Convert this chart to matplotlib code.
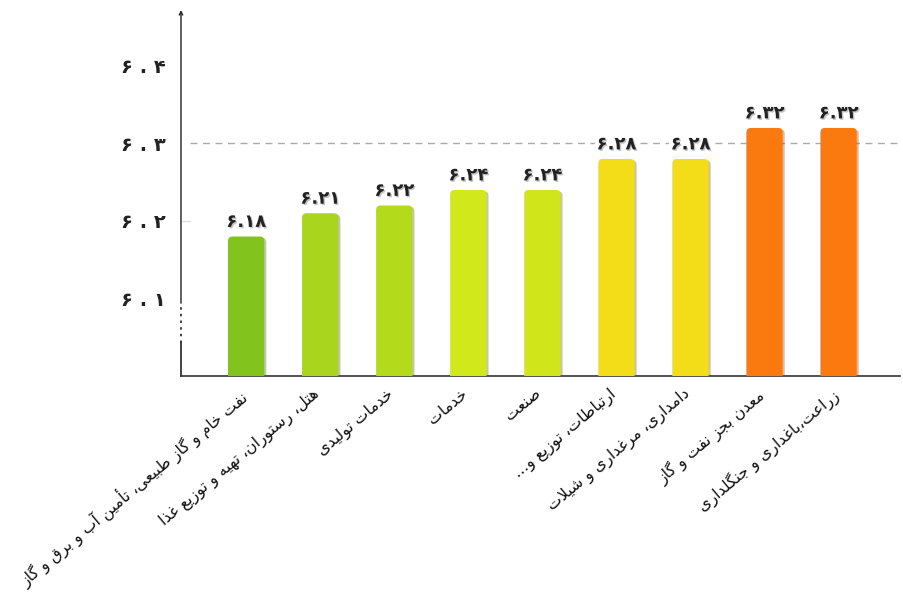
import matplotlib
matplotlib.use("Agg")
import matplotlib.pyplot as plt
import matplotlib.patheffects as pe
import matplotlib.transforms as mtransforms
from matplotlib.patches import FancyBboxPatch

categories = [
    "نفت خام و گاز طبیعی، تأمین آب و برق و گاز",
    "هتل، رستوران، تهیه و توزیع غذا",
    "خدمات تولیدی",
    "خدمات",
    "صنعت",
    "ارتباطات، توزیع و...",
    "دامداری، مرغداری و شیلات",
    "معدن بجز نفت و گاز",
    "زراعت،باغداری و جنگلداری",
]
values = [6.18, 6.21, 6.22, 6.24, 6.24, 6.28, 6.28, 6.32, 6.32]
bar_colors = ["#82c31e", "#a9d51e", "#b3db1c", "#d1e81a", "#d0e61a",
              "#f3dc18", "#f3dc18", "#fa7a10", "#fa7a10"]
y_ticks = [6.1, 6.2, 6.3, 6.4]
ref_line = 6.3

FONT = ["DejaVu Sans"]

# minimal arabic/persian shaping: matplotlib has no complex text layout
DUAL = {"ب": 0xFE8F, "ت": 0xFE95, "ج": 0xFE9D, "خ": 0xFEA5, "س": 0xFEB1,
        "ش": 0xFEB5, "ص": 0xFEB9, "ط": 0xFEC1, "ع": 0xFEC9, "غ": 0xFECD,
        "ف": 0xFED1, "ق": 0xFED5, "ل": 0xFEDD, "م": 0xFEE1, "ن": 0xFEE5,
        "ه": 0xFEE9, "گ": 0xFB92, "ی": 0xFBFC, "ک": 0xFB8E}
RIGHT = {"ا": 0xFE8D, "أ": 0xFE83, "آ": 0xFE81, "د": 0xFEA9, "ذ": 0xFEAB,
         "ر": 0xFEAD, "ز": 0xFEAF, "و": 0xFEED}
LAMALEF = {"ا": 0xFEFB, "أ": 0xFEF7, "آ": 0xFEF5}
FA_DIGITS = str.maketrans("0123456789", "۰۱۲۳۴۵۶۷۸۹")


def shape(s):
    out = []
    i, n = 0, len(s)
    while i < n:
        c = s[i]
        prev_joins = i > 0 and s[i - 1] in DUAL
        if c == "ل" and i + 1 < n and s[i + 1] in LAMALEF:
            out.append(chr(LAMALEF[s[i + 1]] + (1 if prev_joins else 0)))
            i += 2
            continue
        nxt = s[i + 1] if i + 1 < n else ""
        next_joins = nxt in DUAL or nxt in RIGHT
        if c in DUAL:
            code = DUAL[c]
            if prev_joins and next_joins:
                code += 3
            elif prev_joins:
                code += 1
            elif next_joins:
                code += 2
            out.append(chr(code))
        elif c in RIGHT:
            out.append(chr(RIGHT[c] + (1 if prev_joins else 0)))
        else:
            out.append(c)
        i += 1
    return "".join(reversed(out))


fig = plt.figure(figsize=(9.04, 5.95), dpi=100)
ax = fig.add_axes([0.2002, 0.368, 0.7954, 0.615])
ymin, ymax = 6.0, 6.472
xlo, xhi = -0.88, 8.83
ax.set_xlim(xlo, xhi)
ax.set_ylim(ymin, ymax)

x = list(range(len(values)))
bars = ax.bar(x, values, width=0.49, color=bar_colors)
# swap plain rectangles for rounded ones (data aspect is very flat)
px_x = ax.bbox.width / (xhi - xlo)
px_y = ax.bbox.height / (ymax - ymin)
shadow = [pe.SimplePatchShadow(offset=(1.5, -1), shadow_rgbFace="#555555", alpha=0.35),
          pe.Normal()]
for b in bars:
    b.set_visible(False)
    patch = FancyBboxPatch((b.get_x(), b.get_y()), b.get_width(), b.get_height(),
                           boxstyle="round,pad=0,rounding_size=0.06",
                           mutation_aspect=px_x / px_y,
                           facecolor=b.get_facecolor(), edgecolor="none", zorder=3)
    patch.set_path_effects(shadow)
    ax.add_patch(patch)

ax.axhline(ref_line, xmin=0.012, xmax=1, color="#aaaaaa", lw=1,
           dashes=(5, 4), zorder=1)

txt_shadow = [pe.SimplePatchShadow(offset=(1, -1), shadow_rgbFace="#888888", alpha=0.5),
              pe.Normal()]
for xi, v in zip(x, values):
    t = ax.annotate(f"{v:.2f}".translate(FA_DIGITS), (xi, v), xytext=(0, 4),
                    textcoords="offset points", ha="center", va="bottom",
                    fontsize=13, fontweight="bold", color="#222222",
                    family=FONT, zorder=5,
                    bbox=dict(boxstyle="square,pad=0.1", fc="white", ec="none"))
    t.set_path_effects(txt_shadow)

ax.set_yticks(y_ticks)
ax.set_yticklabels([f"{t:.1f}".translate(FA_DIGITS).replace(".", " . ")
                    for t in y_ticks],
                   fontsize=14, fontweight="bold", family=FONT, color="#222222")
ax.tick_params(axis="y", length=0, pad=11)
ax.plot([0, 0.012], [6.2, 6.2], transform=ax.get_yaxis_transform(),
        color="#dddddd", lw=1, clip_on=False)

ax.set_xticks(x)
ax.set_xticklabels([shape(c) for c in categories], rotation=40,
                   ha="right", va="top", rotation_mode="anchor",
                   fontsize=11.3, family=FONT, color="#111111")
ax.tick_params(axis="x", length=0, pad=7)
shift = mtransforms.ScaledTranslation(-8 / 100, 0, fig.dpi_scale_trans)
for lbl in ax.get_xticklabels():
    lbl.set_transform(lbl.get_transform() + shift)

for s in ("top", "right", "left"):
    ax.spines[s].set_visible(False)
ax.spines["bottom"].set_color("#333333")
ax.spines["bottom"].set_linewidth(1.2)

# y axis with a break and an arrow head
yt = ax.get_yaxis_transform()
ax.plot([0, 0], [ymin, 6.043], transform=yt, color="#222222", lw=1.2, clip_on=False)
ax.plot([0, 0], [6.043, 6.094], transform=yt, color="#222222", lw=1.2,
        dashes=(1.5, 2.5), clip_on=False)
ax.annotate("", xy=(0, ymax), xytext=(0, 6.094), xycoords=yt, textcoords=yt,
            arrowprops=dict(arrowstyle="->", color="#222222", lw=1.0,
                            shrinkA=0, shrinkB=0, mutation_scale=6))

fig.savefig("out.png", dpi=100, facecolor="white")
